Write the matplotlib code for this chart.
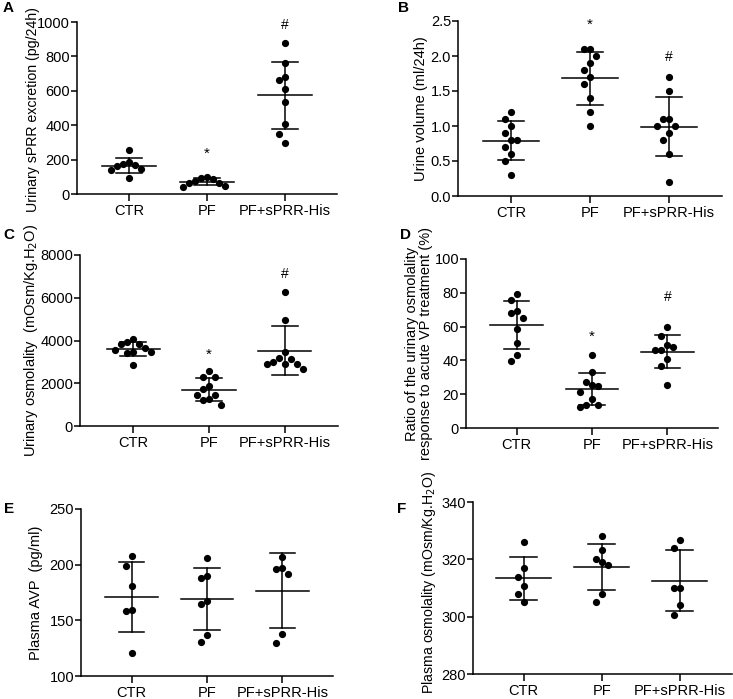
import numpy as np
import matplotlib
matplotlib.use("Agg")
import matplotlib.pyplot as plt

plt.rcParams['font.family'] = ['Liberation Sans', 'DejaVu Sans']

groups = ['CTR', 'PF', 'PF+sPRR-His']

# A - urinary sPRR excretion (pg/24h)
sprr_ctr = [186, 145, 93, 253, 166, 141, 176, 164]
sprr_pf = [74, 48, 93, 41, 64, 99, 64, 87]
sprr_his = [876, 760, 663, 679, 609, 532, 408, 350, 296]

# B - urine volume (ml/24h)
vol_ctr = [1.1, 1.0, 1.2, 0.9, 0.8, 0.8, 0.7, 0.6, 0.5, 0.3]
vol_pf = [2.1, 2.1, 2.0, 1.9, 1.8, 1.7, 1.6, 1.4, 1.2, 1.0]
vol_his = [1.7, 1.5, 1.1, 1.1, 1.0, 1.0, 0.9, 0.8, 0.6, 0.2]

# C - urinary osmolality (mOsm/Kg.H2O)
uosm_ctr = [4050, 3850, 3650, 3850, 3950, 3450, 3450, 3400, 3550, 2870]
uosm_pf = [2580, 2270, 2270, 1880, 1750, 1440, 1440, 1250, 1200, 970]
uosm_his = [6250, 4950, 3440, 3200, 3000, 2880, 2690, 2880, 2880, 3120]

# D - ratio of urinary osmolality response to VP (%)
ratio_ctr = [75.5, 79, 69, 68, 65, 58.6, 50.3, 39.8, 43]
ratio_pf = [43, 33, 27, 24.6, 25.2, 21.3, 17.4, 13.8, 12.2, 13.4]
ratio_his = [59.6, 54.2, 49.3, 48, 46, 46.4, 41, 36.5, 25.6]

# E - plasma AVP (pg/ml)
avp_ctr = [207.8, 198.9, 181, 159.7, 158.2, 120.8]
avp_pf = [206, 188, 189.6, 167.3, 164.3, 130.6, 136.5]
avp_his = [206.9, 195.9, 192, 196.8, 137.4, 129.7]

# F - plasma osmolality (mOsm/Kg.H2O)
posm_ctr = [326, 316.9, 313.9, 310.8, 307.9, 305]
posm_pf = [328.1, 323.1, 319.1, 320, 318, 307.9, 305]
posm_his = [324, 326.9, 309.9, 309.9, 304, 300.7]

W, H = 733, 699
fig = plt.figure(figsize=(W / 100, H / 100), dpi=100)


def make_axes(left, right, top, bottom):
    return fig.add_axes([left / W, 1 - bottom / H, (right - left) / W, (bottom - top) / H])


def swarm(ax, x0, values, step=6.0, vgap=11.0):
    # grid beeswarm in pixel space: points close in value get separate columns
    pix = ax.transData.transform(np.column_stack([np.full(len(values), x0), values]))
    order = np.argsort(-pix[:, 1])
    placed = []
    xs = np.zeros(len(values))
    for i in order:
        px, py = pix[i]
        for k in range(0, 40):
            done = False
            for sgn in ([0] if k == 0 else [-1, 1]):
                cx = px + sgn * k * step
                if all(abs(cx - qx) > step * 0.5 or abs(py - qy) >= vgap for qx, qy in placed):
                    placed.append((cx, py))
                    xs[i] = cx
                    done = True
                    break
            if done:
                break
    return ax.transData.inverted().transform(np.column_stack([xs, pix[:, 1]]))[:, 0]


def panel(ax, data, ylim, yticks, ylabel, letter, letter_xy, label_off,
          xlim=(-0.67, 2.67), label_y=0.5, label_size=10.5):
    ax.set_xlim(*xlim)
    ax.set_ylim(*ylim)
    for spine in ['top', 'right']:
        ax.spines[spine].set_visible(False)
    for spine in ['left', 'bottom']:
        ax.spines[spine].set_linewidth(1.1)
    ax.set_yticks(yticks)
    ax.set_xticks(range(3))
    ax.set_xticklabels(groups)
    ax.tick_params(axis='both', labelsize=10.5, width=1.1, direction='out')
    ax.tick_params(axis='y', length=4, pad=1)
    ax.tick_params(axis='x', length=5, pad=2)
    ax.set_ylabel(ylabel, fontsize=label_size, linespacing=1.0)
    width_px = ax.get_position().width * W
    ax.yaxis.set_label_coords(-label_off / width_px, label_y)
    for i, vals in enumerate(data):
        vals = np.array(vals, dtype=float)
        m = vals.mean()
        sd = vals.std(ddof=1)
        xs = swarm(ax, i, vals)
        ax.scatter(xs, vals, s=27, color='black', zorder=3, clip_on=False, linewidths=0)
        ax.plot([i - 0.35, i + 0.35], [m, m], color='black', lw=1.1, zorder=4)
        ax.plot([i, i], [m - sd, m + sd], color='black', lw=1.1, zorder=4)
        for v in (m - sd, m + sd):
            ax.plot([i - 0.17, i + 0.17], [v, v], color='black', lw=1.1, zorder=4)
    fig.text(letter_xy[0] / W, 1 - letter_xy[1] / H, letter, fontsize=11,
             fontweight='bold', ha='left', va='center')


axA = make_axes(77, 337, 22, 194)
panel(axA, [sprr_ctr, sprr_pf, sprr_his], (0, 1000), range(0, 1001, 200),
      'Urinary sPRR excretion (pg/24h)', 'A', (3, 8), 37, label_y=0.49, label_size=10.2)
axA.text(1, 234, '*', ha='center', va='center', fontsize=11)
axA.text(2, 983, '#', ha='center', va='center', fontsize=10)

axB = make_axes(458, 722, 21, 196)
panel(axB, [vol_ctr, vol_pf, vol_his], (0, 2.5), np.arange(0, 2.51, 0.5),
      'Urine volume (ml/24h)', 'B', (398, 8), 30)
axB.set_yticklabels(['0.0', '0.5', '1.0', '1.5', '2.0', '2.5'])
axB.text(1, 2.44, '*', ha='center', va='center', fontsize=11)
axB.text(2, 1.98, '#', ha='center', va='center', fontsize=10)

axC = make_axes(80, 338, 255, 426)
panel(axC, [uosm_ctr, uosm_pf, uosm_his], (0, 8000), range(0, 8001, 2000),
      'Urinary osmolality  (mOsm/Kg.H$_2$O)', 'C', (3, 235), 40, xlim=(-0.70, 2.70))
axC.text(1, 3350, '*', ha='center', va='center', fontsize=11)
axC.text(2, 7090, '#', ha='center', va='center', fontsize=10)

axD = make_axes(466, 718, 259, 428)
panel(axD, [ratio_ctr, ratio_pf, ratio_his], (0, 100), range(0, 101, 20),
      'Ratio of the urinary osmolality\nresponse to acute VP treatment (%)', 'D', (400, 235), 33)
axD.text(1, 54, '*', ha='center', va='center', fontsize=11)
axD.text(2, 77.7, '#', ha='center', va='center', fontsize=10)

axE = make_axes(81, 333, 509, 676)
panel(axE, [avp_ctr, avp_pf, avp_his], (100, 250), range(100, 251, 50),
      'Plasma AVP  (pg/ml)', 'E', (4, 509), 38)

axF = make_axes(473, 732, 502, 674)
panel(axF, [posm_ctr, posm_pf, posm_his], (280, 340), range(280, 341, 20),
      'Plasma osmolality (mOsm/Kg.H$_2$O)', 'F', (397, 509), 35, xlim=(-0.65, 2.67),
      label_y=0.53, label_size=10.2)

fig.savefig('out.png', dpi=100)
